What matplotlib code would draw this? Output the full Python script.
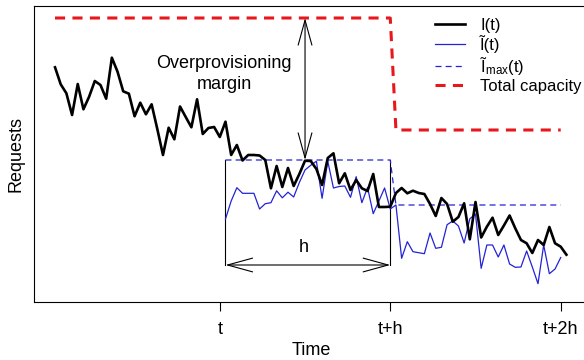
import numpy as np
import matplotlib
matplotlib.use("Agg")
import matplotlib.pyplot as plt

plt.rcParams['font.family'] = ['Liberation Sans', 'DejaVu Sans']
plt.rcParams['mathtext.fontset'] = 'custom'
plt.rcParams['mathtext.rm'] = 'Liberation Sans'
plt.rcParams['mathtext.it'] = 'Liberation Sans'

# observed load I(t), one value per sample
load = [234.7, 217.7, 208.7, 187, 218, 192.7, 205.3, 221, 217, 203.3,
        244.3, 230.3, 210.7, 208.3, 185.7, 199.3, 187.7, 197.7, 173, 147,
        174.3, 162.7, 195.5, 185, 174.7, 202.7, 168, 174, 175, 165,
        180.3, 147, 157, 141.5, 147, 147, 146.5, 142, 113.7, 136,
        115, 134, 116, 128, 141.3, 141, 133, 117, 144, 148.7,
        118.7, 128.7, 112, 122, 113.7, 111, 128, 95, 95, 95.3,
        109, 114, 108.7, 111.3, 109, 108, 98, 86, 104, 98,
        80.3, 85, 98.7, 62.7, 100, 64.5, 75.3, 84.3, 67, 76.5,
        86.5, 73.7, 62, 58.7, 49, 62, 57, 75, 58.7, 55.3,
        47.3]

# predicted load I~(t), starting at sample 30
pred_start = 30
pred = [83, 101, 114.3, 108.7, 108.7, 108.7, 93, 98.3, 99.3, 111.2,
        104.2, 109.8, 105, 119.5, 132, 136.7, 140.8, 103.7, 140.8, 114,
        115.5, 116, 104.7, 125.3, 99.3, 114.5, 88.3, 101, 114, 93,
        97, 43.7, 60.3, 50.3, 49.3, 48.3, 69, 53.7, 54.7, 77.3,
        81, 76, 59, 83.2, 88, 33.7, 57, 57, 45, 57,
        38, 34.7, 35, 51, 35, 18.3, 57, 28.3, 33, 44.5]

# predicted maximum per window and provisioned capacity
imax_time = [30, 59, 60, 89]
imax_vals = [142, 142, 97, 97]
cap_time = [0, 59, 60, 89]
cap_vals = [284, 284, 172, 172]

t0 = 29
h = 30
tick_labels = ['t', 't+h', 't+2h']

load_t = np.arange(len(load))
pred_t = np.arange(pred_start, pred_start + len(pred))

fig = plt.figure(figsize=(5.84, 3.6), dpi=100)
ax = fig.add_axes([34 / 584, 58 / 360, 554 / 584, 296 / 360])

ax.plot(load_t, load, color='black', lw=1.9, label='I(t)', zorder=4)
ax.plot(pred_t, pred, color='#2323d6', lw=0.9, label='\u0128(t)', zorder=3)
ax.plot(imax_time, imax_vals, color='#2323d6', lw=0.9, dashes=(4.8, 3.3),
        label='\u0128$_{\\mathrm{max}}$(t)', zorder=3)
ax.plot(cap_time, cap_vals, color='#e8171b', lw=2.2, dashes=(3.3, 2.4),
        label='Total capacity', zorder=3)

# window of length h
w0, w1 = t0 + 1, t0 + h
ax.plot([w0, w0], [37, imax_vals[0]], color='black', lw=0.8)
ax.plot([w1, w1], [37, imax_vals[0]], color='black', lw=0.8)
arrow = dict(arrowstyle='<->,head_length=1.2,head_width=0.33', lw=0.8,
             color='black', mutation_scale=15, shrinkA=0, shrinkB=0)
ax.annotate('', xy=(w0, 37), xytext=(w1, 37), arrowprops=arrow)
ax.text(43.7, 54, 'h', fontsize=13, ha='center', va='center')

# overprovisioning margin between capacity and predicted max
ax.annotate('', xy=(44, cap_vals[0]), xytext=(44, imax_vals[0]), arrowprops=arrow)
ax.text(29.8, 228, 'Overprovisioning\nmargin', fontsize=13, ha='center',
        va='center', multialignment='center', linespacing=1.3)

ax.set_xlim(-3.7, 93.8)
ax.set_ylim(0, 296)
ax.set_xticks([t0, t0 + h, t0 + 2 * h])
ax.set_xticklabels(tick_labels, fontsize=13)
ax.tick_params(axis='x', length=6.5, width=0.8, pad=7)
ax.set_yticks([])
ax.set_xlabel('Time', fontsize=13, labelpad=3)
ax.set_ylabel('Requests', fontsize=13, labelpad=7)
ax.spines['right'].set_visible(False)

ax.legend(loc='upper left', bbox_to_anchor=(435 / 584, 1 - 18 / 360),
          bbox_transform=fig.transFigure, frameon=False, fontsize=12,
          handlelength=1.8, handletextpad=0.9, labelspacing=0.12,
          borderpad=0, borderaxespad=0)

fig.savefig('out.png', dpi=100)
